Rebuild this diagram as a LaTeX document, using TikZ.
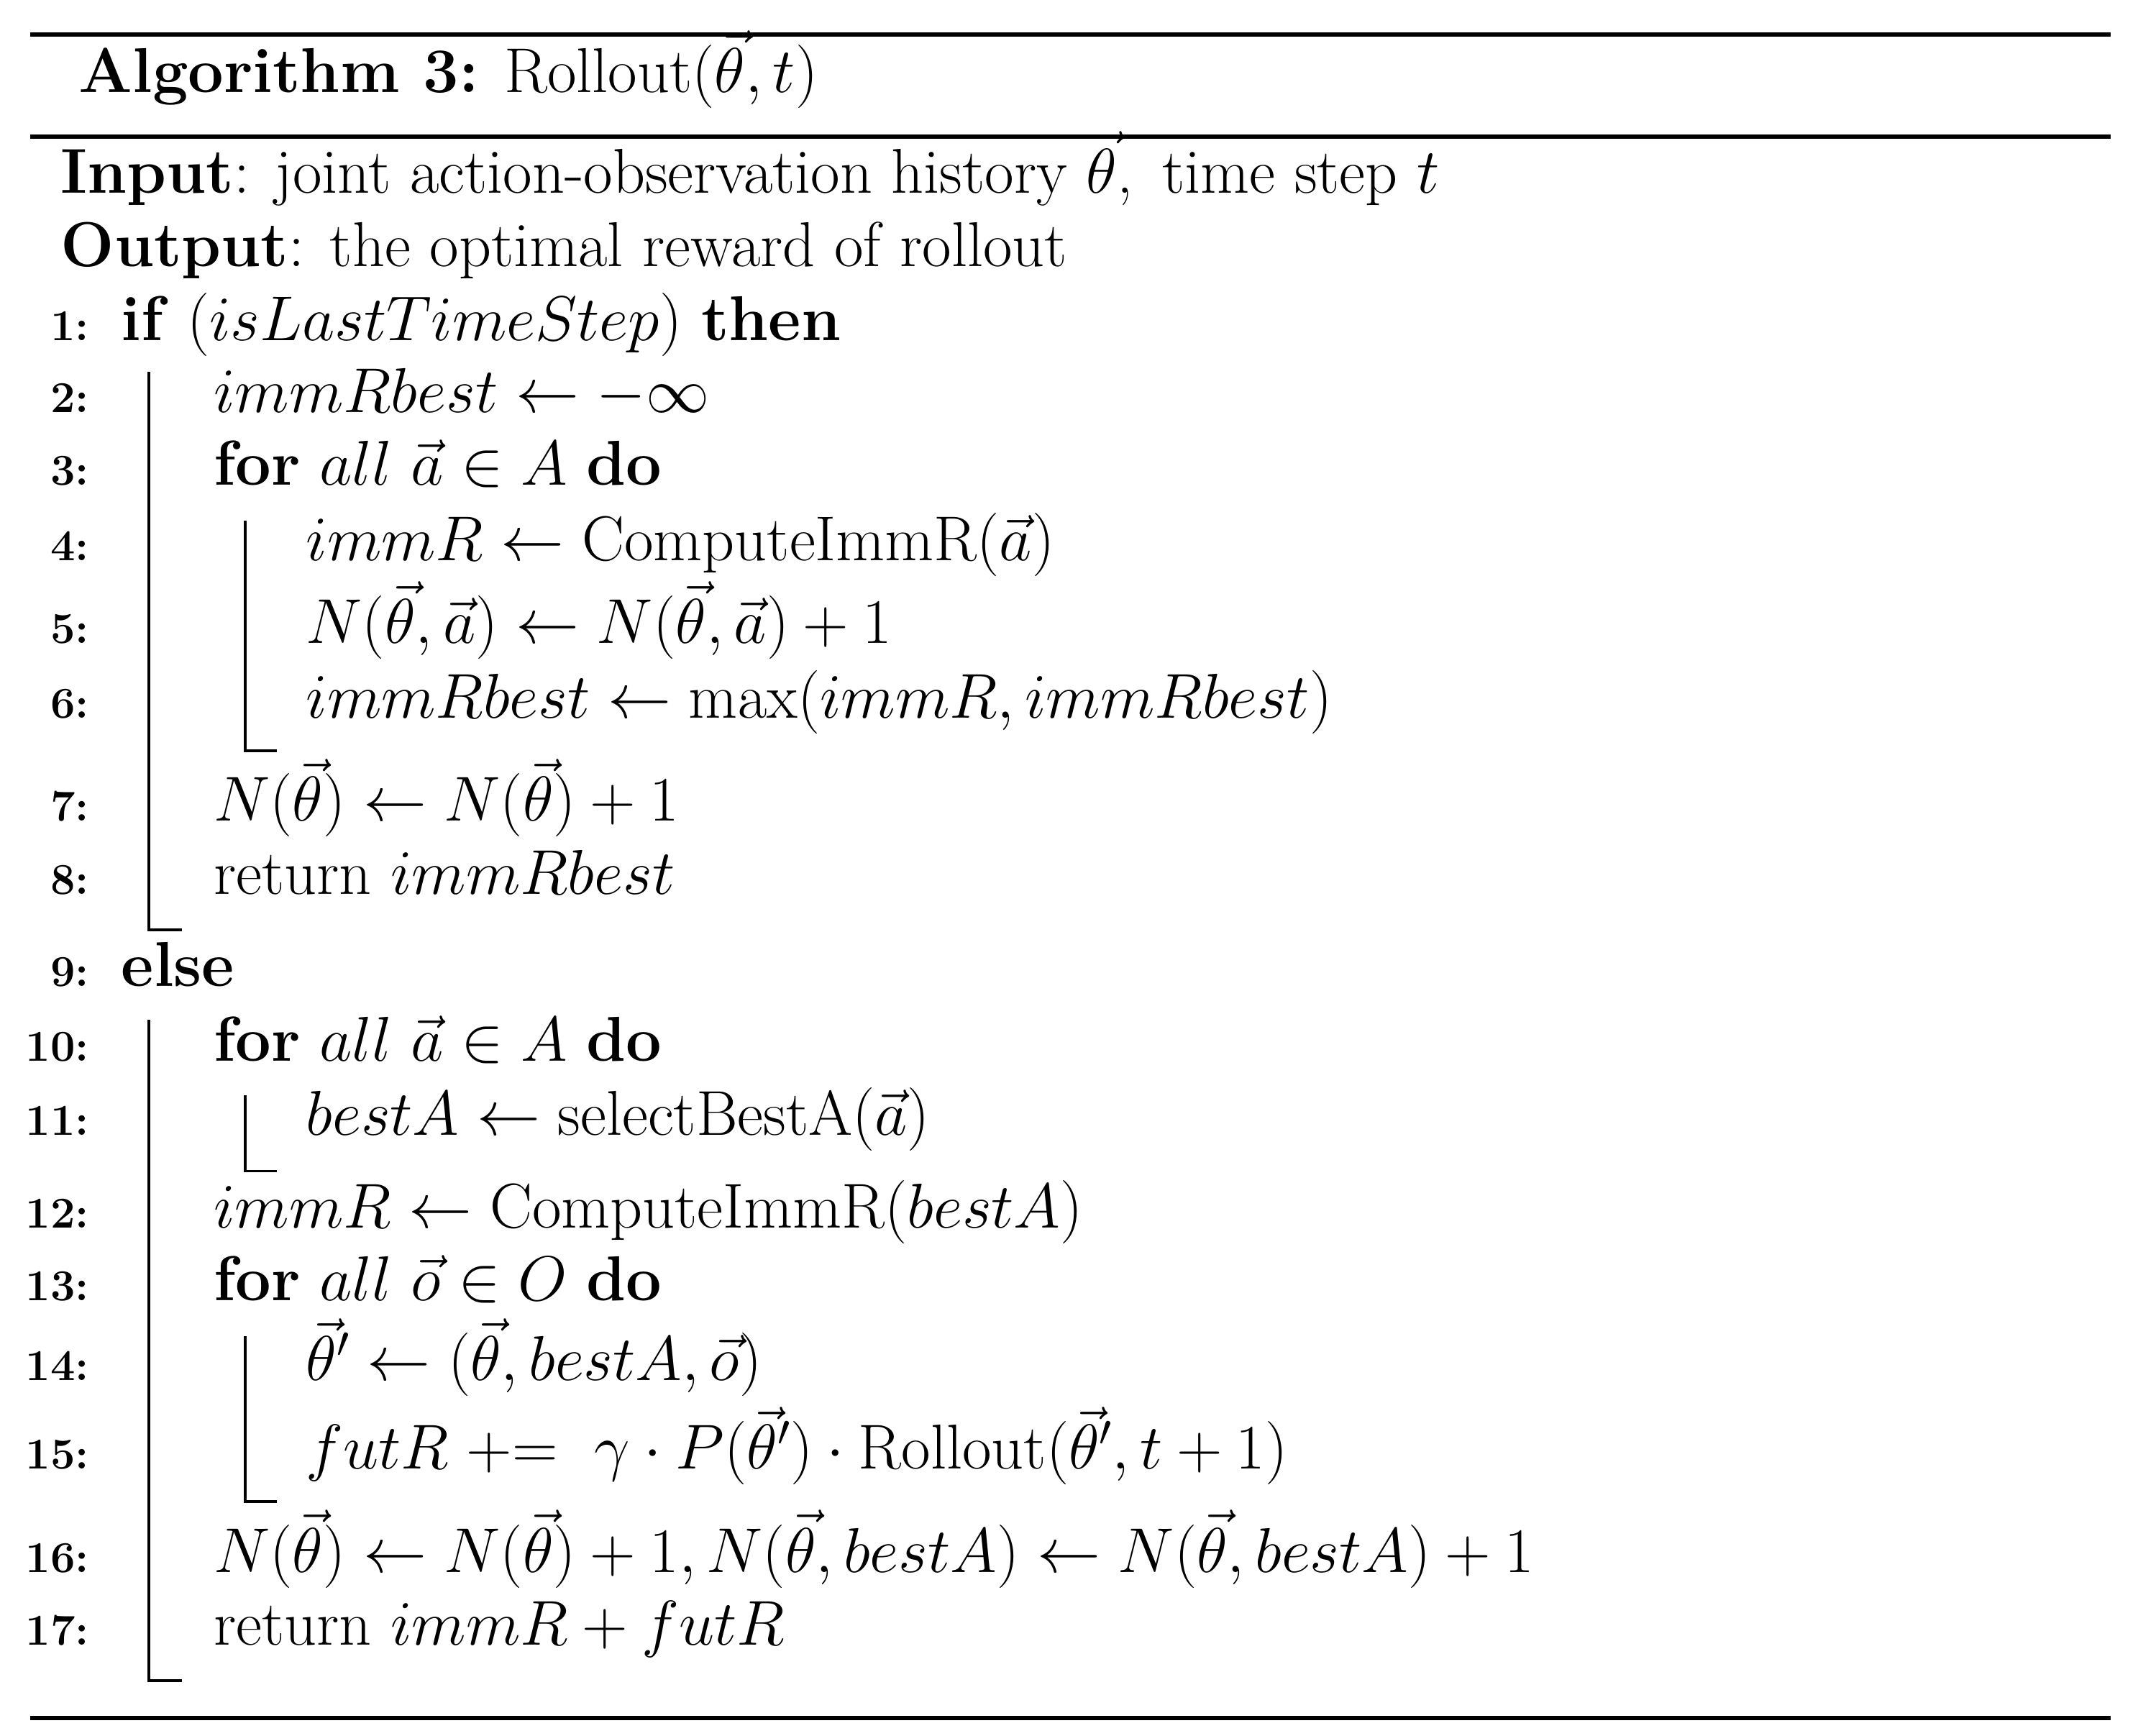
\RequirePackage{fix-cm}
\documentclass[tikz,border=0pt]{standalone}
\usepackage{amsmath}
\DeclareMathSizes{46}{46}{32}{23}
\begin{document}
\begin{tikzpicture}[x=1pt,y=-1pt,
  txt/.style={anchor=mid west,inner sep=0pt,font=\fontsize{46}{54}\selectfont},
  num/.style={anchor=mid east,inner sep=0pt,font=\fontsize{32}{38}\selectfont\bfseries},
  rule/.style={line width=3pt},
  bar/.style={line width=1.8pt}]
\useasboundingbox (0,0) rectangle (1552,1260);
\draw[rule] (22,25) -- (1532,25);
\draw[rule] (22,99) -- (1532,99);
\draw[rule] (22,1247) -- (1532,1247);
\node[txt] (title) at (57,65) {\textbf{Algorithm 3:} Rollout$(\vec{\theta},t)$};
\node[txt] (in) at (44,138) {\textbf{Input}: joint action-observation history $\vec{\theta}$,\, time step $t$};
\node[txt] (out) at (44,191) {\textbf{Output}: the optimal reward of rollout};
\node[num] (n1) at (65,245) {1:};
\node[txt] (l1) at (88,245) {\textbf{if} ($isLastTimeStep$) \textbf{then}};
\node[num] (n2) at (65,297) {2:};
\node[txt] (l2) at (155,297) {$immRbest \leftarrow -\infty$};
\node[num] (n3) at (65,350) {3:};
\node[txt] (l3) at (155,350) {\textbf{for} $all~\vec{a}\in A$ \textbf{do}};
\node[num] (n4) at (65,405) {4:};
\node[txt] (l4) at (222,405) {$immR \leftarrow \text{ComputeImmR}(\vec{a})$};
\node[num] (n5) at (65,465) {5:};
\node[txt] (l5) at (222,465) {$N(\vec{\theta},\vec{a}) \leftarrow N(\vec{\theta},\vec{a})+1$};
\node[num] (n6) at (65,519) {6:};
\node[txt] (l6) at (222,519) {$immRbest \leftarrow \max(immR, immRbest)$};
\node[num] (n7) at (65,594) {7:};
\node[txt] (l7) at (155,594) {$N(\vec{\theta}) \leftarrow N(\vec{\theta})+1$};
\node[num] (n8) at (65,647) {8:};
\node[txt] (l8) at (155,647) {return $immRbest$};
\node[num] (n9) at (65,714) {9:};
\node[txt] (l9) at (88,714) {\textbf{else}};
\node[num] (n10) at (65,768) {10:};
\node[txt] (l10) at (155,768) {\textbf{for} $all~\vec{a}\in A$ \textbf{do}};
\node[num] (n11) at (65,822) {11:};
\node[txt] (l11) at (222,822) {$bestA \leftarrow \text{selectBestA}(\vec{a})$};
\node[num] (n12) at (65,889) {12:};
\node[txt] (l12) at (155,889) {$immR \leftarrow \text{ComputeImmR}(bestA)$};
\node[num] (n13) at (65,942) {13:};
\node[txt] (l13) at (155,942) {\textbf{for} $all~\vec{o}\in O$ \textbf{do}};
\node[num] (n14) at (65,1000) {14:};
\node[txt] (l14) at (222,1000) {$\vec{\theta}' \leftarrow (\vec{\theta}, bestA, \vec{o})$};
\node[num] (n15) at (65,1064) {15:};
\node[txt] (l15) at (222,1064) {$futR \mathrel{+}=~\gamma\cdot P(\vec{\theta}')\cdot \text{Rollout}(\vec{\theta}',t+1)$};
\node[num] (n16) at (65,1139) {16:};
\node[txt] (l16) at (155,1139) {$N(\vec{\theta}) \leftarrow N(\vec{\theta})+1, N(\vec{\theta},bestA) \leftarrow N(\vec{\theta},bestA)+1$};
\node[num] (n17) at (65,1192) {17:};
\node[txt] (l17) at (155,1192) {return $immR + futR$};
\draw[bar] (108,270) -- (108,675) -- (132,675);
\draw[bar] (178,378) -- (178,545) -- (201,545);
\draw[bar] (108,740) -- (108,1220) -- (132,1220);
\draw[bar] (178,795) -- (178,850) -- (201,850);
\draw[bar] (178,970) -- (178,1090) -- (201,1090);
\end{tikzpicture}
\end{document}
